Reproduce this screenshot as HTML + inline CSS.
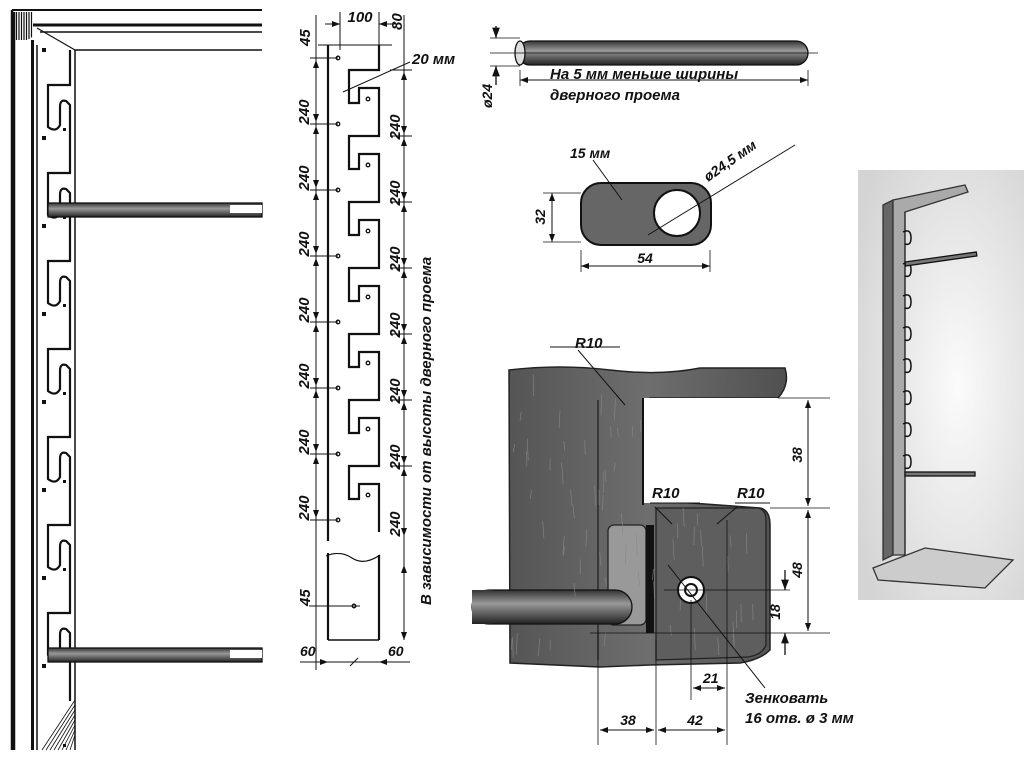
<!DOCTYPE html>
<html><head><meta charset="utf-8"><style>
html,body{margin:0;padding:0;background:#fff;}
svg{display:block}
text{font-family:"Liberation Sans",sans-serif;font-weight:bold;font-style:italic;fill:#111}
</style></head><body>
<svg id="s" width="1024" height="768" viewBox="0 0 1024 768" xmlns="http://www.w3.org/2000/svg">
<defs>
<linearGradient id="rod" x1="0" y1="0" x2="0" y2="1">
<stop offset="0" stop-color="#333"/><stop offset="0.4" stop-color="#999"/><stop offset="1" stop-color="#222"/></linearGradient>
<linearGradient id="wood" x1="0" y1="0" x2="1" y2="0">
<stop offset="0" stop-color="#555"/><stop offset="0.5" stop-color="#6e6e6e"/><stop offset="1" stop-color="#505050"/></linearGradient>
<radialGradient id="ph" cx="0.6" cy="0.5" r="0.7"><stop offset="0" stop-color="#fbfbfb"/><stop offset="1" stop-color="#d4d4d4"/></radialGradient>
<marker id="a" markerWidth="8" markerHeight="6" refX="8" refY="3" orient="auto-start-reverse"><path d="M0,0 L8,3 L0,6z" fill="#111"/></marker>
</defs>
<g id="g" stroke="#111" fill="none" stroke-width="1.3"></g>
</svg>
<script>
var g=document.getElementById('g'),NS="http://www.w3.org/2000/svg";
var seed=7;function rnd(){seed=(seed*16807)%2147483647;return seed/2147483647;}
function el(t,a,txt){var e=document.createElementNS(NS,t);for(var k in a)e.setAttribute(k,a[k]);if(txt)e.textContent=txt;g.appendChild(e);return e;}
function L(x1,y1,x2,y2,w,m){var a={x1:x1,y1:y1,x2:x2,y2:y2};if(w)a['stroke-width']=w;if(m){a['marker-start']='url(#a)';a['marker-end']='url(#a)';}return el('line',a);}
function T(x,y,s,sz,rot,anc){var a={x:x,y:y,'font-size':sz||14,stroke:'none'};if(anc)a['text-anchor']=anc;if(rot)a.transform='rotate(-90 '+x+' '+y+')';return el('text',a,s);}
// ===== Left frame =====
L(12,10,12,750,2.5);L(33,40,33,750,2);L(37,45,37,750,1.5);
L(12,10,262,10,2);L(33,25,262,25,3);L(40,32,262,32,1.5);L(75,50,262,50,1.5);
for(var i=0;i<8;i++){L(14+i*2.5,12,14+i*2.5,48-i*1.5,1.2);}
L(37,28,75,50,1.2);
el('rect',{x:14,y:40,width:18,height:710,fill:'#fff',stroke:'none'});
L(14,12,14,750,2.5);L(32,40,32,750,2);
var p="M70,50 L70,85";
for(var k=0;k<7;k++){var y=85+88*k;p+=" L48,"+(y)+" L48,"+(y+42)+" Q56,"+(y+48)+" 60,"+(y+40)+" L60,"+(y+22)+" Q60,"+(y+14)+" 66,"+(y+16)+" L70,"+(y+20)+" L70,"+(y+88);}
el('path',{d:p,'stroke-width':2.2});L(75,50,75,750,1.5);
for(var k=0;k<8;k++){el('rect',{x:42,y:48+88*k,width:4,height:4,fill:'#111',stroke:'none'});el('rect',{x:63,y:128+88*k,width:3,height:3,fill:'#111',stroke:'none'});}
for(var i=0;i<8;i++)L(42+i*4,750,75,700+i*5,0.8);
el('rect',{x:48,y:203,width:214,height:14,fill:'url(#rod)',stroke:'#111'});
el('rect',{x:230,y:205,width:32,height:8,fill:'#fff',stroke:'none'});
el('rect',{x:48,y:648,width:214,height:14,fill:'url(#rod)',stroke:'#111'});
el('rect',{x:230,y:650,width:32,height:8,fill:'#fff',stroke:'none'});
// ===== Middle strip =====
L(328,45,328,640,2.2);L(318,45,392,45,1);
var q="M379,45 L379,70";
for(var k=0;k<7;k++){var y=70+66*k;q+=" L349,"+y+" L349,"+(y+33)+" L359,"+(y+33)+" L359,"+(y+18)+" L379,"+(y+18)+" L379,"+(y+66);}
el('path',{d:q,'stroke-width':2.2});
el('path',{d:"M326,545 Q340,538 352,546 T380,544",'stroke-width':1.2});
el('path',{d:"M326,556 Q340,550 352,558 T380,555",'stroke-width':1.2});
L(379,555,379,640,2.2);L(328,640,379,640,1.5);
el('rect',{x:325,y:541,width:60,height:12,fill:'#fff',stroke:'none'});
for(var k=0;k<8;k++){el('circle',{cx:338,cy:58+66*k,r:1.8});L(310,58+66*k,338,58+66*k,1);if(k<7)el('circle',{cx:368,cy:99+66*k,r:1.8});}
el('circle',{cx:354,cy:606,r:1.8});
L(316,15,316,670,1);L(404,15,404,640,1);
for(var k=0;k<7;k++){L(316,60+66*k,316,122+66*k,1,1);T(309,112+66*k,"240",15,1,"middle");L(390,70+66*k,412,70+66*k,1);if(k<6){L(404,72+66*k,404,134+66*k,1,1);T(400,127+66*k,"240",15,1,"middle");}}
T(400,524,"240",15,1,"middle");L(404,468,404,536,1,1);
L(340,12,340,50,1);L(379,12,379,50,1);
el('line',{x1:325,y1:24,x2:340,y2:24,'marker-end':'url(#a)','stroke-width':1});
el('line',{x1:395,y1:24,x2:379,y2:24,'marker-end':'url(#a)','stroke-width':1});
T(360,22,"100",15,0,"middle");T(402,30,"80",15,1,"start");T(310,46,"45",15,1);
L(343,92,410,62,1);T(412,64,"20 мм",15);
T(431,605,"В зависимости от высоты дверного проема",15,1);
L(404,565,404,640,1,1);L(309,606,360,606,1);L(316,580,316,606,1,0);T(310,606,"45",15,1);
L(300,662,410,662,1);el('line',{x1:312,y1:662,x2:328,y2:662,'marker-end':'url(#a)','stroke-width':1});el('line',{x1:396,y1:662,x2:379,y2:662,'marker-end':'url(#a)','stroke-width':1});
L(350,666,358,658,1);T(300,656,"60",14);T(388,656,"60",14);
// ===== Top rod =====
el('rect',{x:518,y:41,width:290,height:24,rx:12,fill:'url(#rod)',stroke:'#111'});
el('ellipse',{cx:520,cy:53,rx:5,ry:12,fill:'#ddd'});
L(490,53,818,53,0.8);L(490,38,520,38,0.8);L(490,66,520,66,0.8);el('line',{x1:496,y1:26,x2:496,y2:38,'marker-end':'url(#a)'});el('line',{x1:496,y1:85,x2:496,y2:66,'marker-end':'url(#a)'});
T(492,108,"ø24",14,1);L(520,70,520,86,0.8);L(808,70,808,86,0.8);L(520,80,808,80,1,1);
T(550,79,"На 5 мм меньше ширины",15);T(550,100,"дверного проема",15);
// ===== oval plate =====
el('rect',{x:581,y:183,width:130,height:62,rx:20,fill:'#666',stroke:'#111','stroke-width':2});
el('circle',{cx:677,cy:213,r:23,fill:'#fff',stroke:'#111','stroke-width':2});
L(543,193,581,193,0.8);L(543,242,581,242,0.8);L(552,193,552,242,1,1);T(545,217,"32",14,1,"middle");
L(581,250,581,272,0.8);L(710,250,710,272,0.8);L(581,266,710,266,1,1);T(645,263,"54",14,0,"middle");
L(593,160,622,200,1);T(570,158,"15 мм",14);L(648,235,795,145,1);T(708,182,"ø24,5 мм",14,0,"start").setAttribute('transform','rotate(-35 708 182)');
// ===== bottom detail =====
el('path',{d:"M509,370 Q560,364 610,370 T700,368 L785,368 Q790,385 778,398 L650,398 L650,500 L760,508 Q770,510 770,525 L770,650 Q760,660 740,663 L650,665 L600,667 L510,663 Z",fill:'url(#wood)',stroke:'#222','stroke-width':1.5});
el('rect',{x:643,y:398,width:140,height:105,fill:'#fff',stroke:'none'});
el('path',{d:"M643,398 L643,505",stroke:'#111','stroke-width':2});
el('path',{d:"M656,508 L756,508 Q766,508 766,520 L766,645 Q762,655 748,657 L656,660 Z",fill:'#5e5e5e',stroke:'#222'});
el('rect',{x:608,y:525,width:38,height:100,rx:6,fill:'#999',stroke:'#222'});
el('rect',{x:646,y:525,width:8,height:108,fill:'#111',stroke:'none'});
el('path',{d:"M598,400 L598,660",stroke:'#222'});
el('rect',{x:472,y:590,width:160,height:34,rx:17,fill:'url(#rod)',stroke:'#111'});
el('rect',{x:472,y:590,width:20,height:34,fill:'url(#rod)',stroke:'none'});
for(var i=0;i<90;i++){var x=512+rnd()*250,y=372+rnd()*290;if(x>645&&y<505)continue;if(y>590&&y<624&&x<632)continue;L(x,y,x+rnd()*3-1.5,y+8+rnd()*14,0.6).setAttribute('stroke','#888');}
el('circle',{cx:691,cy:590,r:13,fill:'#fff',stroke:'#111','stroke-width':2});el('circle',{cx:691,cy:590,r:6,stroke:'#111','stroke-width':2});
L(664,590,790,590,0.8);L(778,398,830,398,0.8);L(770,508,830,508,0.8);L(590,633,830,633,0.8);
L(808,400,808,506,1,1);T(802,455,"38",14,1,"middle");L(808,510,808,631,1,1);T(802,570,"48",14,1,"middle");
el('line',{x1:785,y1:570,x2:785,y2:590,'marker-end':'url(#a)'});el('line',{x1:785,y1:655,x2:785,y2:633,'marker-end':'url(#a)'});T(780,612,"18",14,1,"middle");
L(598,630,598,745,0.8);L(656,640,656,745,0.8);L(727,520,727,745,0.8);L(691,600,691,700,0.8);
L(600,730,654,730,1,1);L(658,730,725,730,1,1);L(693,688,725,688,1,1);
T(628,725,"38",14,0,"middle");T(695,725,"42",14,0,"middle");T(703,683,"21",14,0,"start");
L(668,565,765,688,1);T(745,703,"Зенковать",15);T(745,723,"16 отв. ø 3 мм",15);
L(550,347,620,347,1);L(578,350,625,405,1);T(575,348,"R10",15);
L(650,503,700,503,1);L(655,507,672,524,1);T(652,498,"R10",15);
L(735,503,770,503,1);L(737,507,717,524,1);T(737,498,"R10",15);
// ===== photo =====
el('rect',{x:858,y:170,width:166,height:430,fill:'url(#ph)',stroke:'none'});
el('path',{d:"M883,205 L893,200 L893,555 L883,560 Z",fill:'#666',stroke:'#333'});
el('path',{d:"M893,200 L965,185 L968,192 L905,212 L905,555 L893,555 Z",fill:'#aaa',stroke:'#333'});
L(905,212,905,555,1);
for(var k=0;k<8;k++){el('path',{d:"M903,"+(232+32*k)+" q8,-4 8,6 q0,8 -6,6",'stroke-width':1.5});}
el('rect',{x:905,y:262,width:72,height:4,fill:'#777',transform:'rotate(-8 905 262)'});
el('rect',{x:905,y:472,width:70,height:4,fill:'#777'});
el('path',{d:"M873,568 L925,548 L1013,560 L985,588 L878,580 Z",fill:'#ccc',stroke:'#333'});
</script>
</body></html>
